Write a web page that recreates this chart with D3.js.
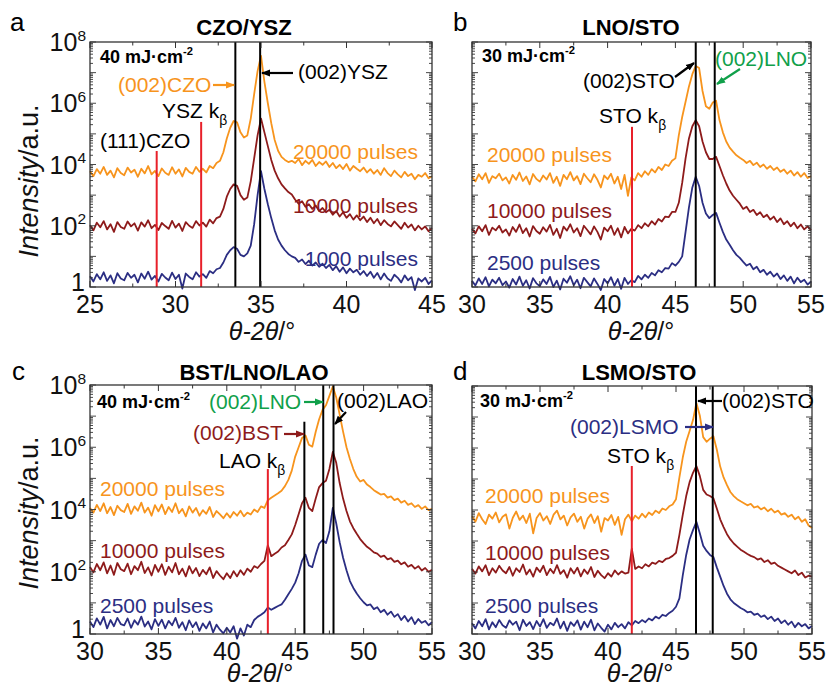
<!DOCTYPE html>
<html><head><meta charset="utf-8">
<script src="https://cdn.jsdelivr.net/npm/d3@7"></script>
<style>body{margin:0;background:#fff}svg{display:block}text{font-family:"Liberation Sans",Arial,Helvetica,sans-serif}</style>
</head><body><svg id="chart" width="828" height="688"></svg>
<script>
// ---------------- DATA (log10 of intensity, a.u.) ----------------
// Panel a: CZO/YSZ, 2theta from 25 to 45 in steps of 0.2
const thetaA = {start: 25, step: 0.2};
const a20000 = [
3.78,3.62,3.85,3.70,3.92,3.66,3.80,3.58,3.88,3.72,
3.65,3.90,3.74,3.83,3.60,3.86,3.71,3.95,3.68,3.79,
3.62,3.87,3.73,3.66,3.91,3.70,3.84,3.61,3.89,3.76,
3.70,3.92,3.76,3.86,3.74,3.95,3.88,4.05,4.12,4.40,
4.85,5.20,5.42,5.38,5.05,4.88,4.95,5.50,6.30,7.05,
7.55,6.70,6.00,5.35,4.80,4.45,4.25,4.15,4.08,4.12,
4.05,4.18,3.98,4.12,4.02,4.15,3.95,4.08,3.99,4.10,
3.92,4.05,3.88,3.99,3.85,4.02,3.80,3.95,3.86,3.78,
3.90,3.74,3.85,3.70,3.82,3.66,3.88,3.72,3.62,3.80,
3.68,3.58,3.76,3.62,3.70,3.52,3.66,3.60,3.72,3.55,
3.62];
const a10000 = [
2.02,1.85,2.10,1.95,2.15,1.88,2.05,1.80,2.12,1.96,
1.90,2.14,1.98,2.08,1.84,2.11,1.97,2.18,1.92,2.03,
1.86,2.09,1.99,1.90,2.16,1.94,2.07,1.83,2.12,2.00,
1.93,2.15,2.01,2.10,1.97,2.20,2.08,2.25,2.30,2.55,
2.95,3.20,3.35,3.30,3.00,2.85,2.92,3.45,4.20,4.95,
5.50,5.05,4.60,4.15,3.80,3.55,3.35,3.22,3.10,3.02,
2.85,2.72,2.80,2.62,2.70,2.55,2.66,2.48,2.58,2.44,
2.52,2.36,2.48,2.30,2.44,2.26,2.38,2.20,2.34,2.18,
2.30,2.12,2.26,2.08,2.22,2.02,2.18,2.06,1.98,2.14,
2.02,1.90,2.10,1.94,2.04,1.85,2.00,1.88,1.98,1.82,
1.92];
const a1000 = [
0.35,0.18,0.42,0.25,0.48,0.20,0.38,0.12,0.45,0.28,
0.22,0.46,0.30,0.40,0.15,0.44,0.27,0.50,0.24,0.36,
0.18,0.43,0.31,0.22,0.47,0.26,0.40,-0.05,0.44,0.33,
0.25,0.48,0.34,0.42,0.30,0.52,0.45,0.58,0.62,0.80,
1.05,1.20,1.30,1.25,1.05,1.00,1.10,1.35,2.05,3.00,
3.78,3.20,2.70,2.25,1.85,1.55,1.35,1.20,1.08,1.00,
0.95,0.82,0.90,0.75,0.86,0.70,0.80,0.66,0.76,0.62,
0.72,0.55,0.68,0.50,0.64,0.45,0.60,0.48,0.56,0.40,
0.52,0.36,0.50,0.30,0.46,0.25,0.44,0.28,0.20,0.40,
0.30,0.15,0.38,0.22,0.32,-0.10,0.28,0.18,0.30,0.10,
0.22];

// Panel b: LNO/STO, 2theta from 30 to 55 in steps of 0.25
const thetaB = {start: 30, step: 0.25};
const b20000 = [
3.60,3.45,3.68,3.52,3.72,3.40,3.62,3.55,3.70,3.48,
3.58,3.38,3.66,3.50,3.74,3.46,3.61,3.35,3.69,3.53,
3.44,3.64,3.51,3.72,3.40,3.60,3.30,3.66,3.52,3.75,
3.48,3.62,3.36,3.70,3.55,3.42,3.68,3.50,3.25,3.64,
3.52,3.70,3.38,3.60,3.20,3.66,2.98,3.58,3.48,3.72,
3.60,3.78,3.66,3.85,3.74,3.92,3.82,4.00,3.95,4.12,
4.20,4.95,5.55,6.05,6.55,6.95,7.22,7.15,6.40,5.90,
5.82,6.02,6.08,5.45,5.05,4.75,4.55,4.42,4.30,4.22,
4.15,4.05,4.12,3.98,4.06,3.92,4.00,3.86,3.95,3.82,
3.90,3.76,3.84,3.70,3.80,3.64,3.75,3.60,3.72,3.56,
3.62];
const b10000 = [
1.90,1.75,1.98,1.82,2.02,1.70,1.94,1.85,2.00,1.78,
1.88,1.68,1.96,1.80,2.04,1.76,1.92,1.65,1.99,1.83,
1.74,1.95,1.81,2.03,1.70,1.90,1.60,1.97,1.84,2.05,
1.78,1.92,1.66,2.00,1.86,1.72,1.98,1.80,1.55,1.94,
1.82,2.00,1.70,1.92,1.62,1.96,1.75,1.90,1.84,2.02,
1.92,2.08,1.98,2.15,2.04,2.22,2.14,2.30,2.28,2.45,
2.45,2.75,3.40,4.20,4.85,5.25,5.45,5.25,4.75,4.40,
4.18,4.18,4.25,3.95,3.65,3.38,3.15,2.98,2.85,2.72,
2.55,2.62,2.45,2.52,2.35,2.44,2.28,2.36,2.20,2.30,
2.12,2.24,2.05,2.15,1.98,2.10,1.92,2.04,1.88,1.98,
1.86];
const b2500 = [
0.20,0.05,0.28,0.10,0.32,0.02,0.24,0.12,0.30,0.06,
0.18,-0.02,0.26,0.08,0.34,0.04,0.22,-0.05,0.29,0.12,
0.03,0.25,0.10,0.33,0.00,0.21,-0.08,0.27,0.14,0.35,
0.06,0.24,-0.04,0.30,0.16,0.02,0.28,0.10,-0.10,0.26,
0.12,0.32,0.04,0.26,-0.06,0.30,0.10,0.22,0.16,0.36,
0.25,0.40,0.30,0.46,0.38,0.55,0.48,0.62,0.60,0.78,
0.70,0.82,1.00,1.80,2.60,3.25,3.60,3.30,2.75,2.40,
2.25,2.35,2.42,2.10,1.80,1.55,1.38,1.20,1.05,0.95,
0.82,0.70,0.76,0.58,0.66,0.48,0.56,0.40,0.50,0.34,
0.44,0.26,0.38,0.20,0.34,0.12,0.30,0.16,0.24,0.08,
0.18];

// Panel c: BST/LNO/LAO, 2theta from 30 to 55 in steps of 0.25
const thetaC = {start: 30, step: 0.25};
const c20000 = [
4.05,3.90,4.15,3.95,4.20,3.88,4.08,3.82,4.12,3.98,
3.92,4.18,3.86,4.10,3.96,4.22,3.90,4.06,3.80,4.14,
3.94,4.16,3.85,4.08,3.92,4.20,3.88,4.02,3.78,4.10,
3.90,4.05,3.80,3.98,3.86,4.08,3.76,3.95,3.84,3.72,
3.88,3.74,3.92,3.80,3.96,3.78,3.90,3.84,4.00,3.92,
4.10,4.05,4.30,4.38,4.45,4.52,4.60,4.75,4.95,5.25,
5.70,6.00,6.30,6.38,6.08,6.02,6.50,6.90,7.20,7.35,
7.65,7.95,7.60,7.05,6.50,6.00,5.62,5.30,5.05,4.90,
4.95,4.80,4.72,4.62,4.55,4.48,4.50,4.38,4.42,4.30,
4.35,4.22,4.28,4.15,4.20,4.08,4.14,4.02,4.10,3.98,
4.02];
const c10000 = [
2.15,1.98,2.25,2.05,2.30,1.95,2.20,1.90,2.28,2.08,
2.02,2.26,1.92,2.18,2.05,2.32,1.96,2.14,1.88,2.22,
2.00,2.24,1.90,2.16,1.98,2.28,1.92,2.10,1.85,2.18,
1.95,2.12,1.86,2.06,1.92,2.14,1.80,2.02,1.88,1.76,
1.95,1.80,2.02,1.85,2.05,1.90,2.10,2.00,2.18,2.12,
2.25,2.35,2.85,2.50,2.58,2.65,2.78,2.85,3.02,3.20,
3.50,3.85,4.20,4.38,4.05,3.95,4.35,4.72,4.85,4.92,
5.30,5.85,5.50,4.85,4.35,3.95,3.62,3.40,3.22,3.05,
2.92,2.80,2.72,2.62,2.58,2.48,2.52,2.40,2.44,2.32,
2.36,2.24,2.30,2.16,2.22,2.10,2.18,2.04,2.12,2.00,
2.06];
const c2500 = [
0.40,0.22,0.50,0.30,0.55,0.18,0.45,0.25,0.52,0.32,
0.28,0.50,0.20,0.44,0.30,0.56,0.24,0.40,0.15,0.48,
0.26,0.46,0.18,0.42,0.28,0.52,0.20,0.38,0.12,0.44,
0.22,0.38,0.10,0.34,0.18,0.40,0.05,0.30,0.14,0.02,
0.20,0.05,0.25,-0.15,0.18,-0.05,0.30,0.22,0.45,0.55,
0.62,0.70,0.85,0.78,0.84,0.90,0.95,1.10,1.28,1.45,
1.65,1.95,2.35,2.55,2.20,2.15,2.55,2.90,3.02,2.92,
3.30,4.05,3.55,2.95,2.45,2.05,1.70,1.48,1.30,1.15,
1.02,0.92,0.95,0.80,0.86,0.70,0.78,0.62,0.72,0.55,
0.64,0.45,0.58,0.40,0.54,0.32,0.48,0.36,0.42,0.28,
0.38];

// Panel d: LSMO/STO, 2theta from 30 to 55 in steps of 0.25
const thetaD = {start: 30, step: 0.25};
const d20000 = [
3.80,3.62,3.90,3.70,3.55,3.85,3.72,3.92,3.60,3.78,
3.86,3.40,3.75,3.95,3.68,3.82,3.58,3.88,3.25,3.74,
3.90,3.66,3.80,3.55,3.85,3.98,3.70,3.82,3.50,3.76,
3.88,3.62,3.78,3.40,3.72,3.86,3.58,3.80,3.30,3.74,
3.66,3.84,3.52,3.78,3.20,3.70,3.85,3.64,3.82,3.72,
3.88,3.76,3.92,3.84,3.98,3.90,4.05,4.00,4.12,4.18,
4.35,5.05,5.70,6.20,6.55,6.90,7.45,7.05,6.35,6.20,
6.30,6.38,5.95,5.40,5.05,4.80,4.58,4.45,4.35,4.28,
4.22,4.15,4.20,4.08,4.12,4.02,4.08,3.96,4.04,3.92,
3.98,3.85,3.90,3.78,3.85,3.70,3.78,3.62,3.70,3.50,
3.42];
const d10000 = [
2.10,1.95,2.18,2.02,2.22,1.90,2.12,1.98,2.20,2.05,
1.96,2.16,1.88,2.12,2.00,2.24,1.92,2.08,1.85,2.14,
2.00,2.20,1.90,2.10,1.96,2.22,1.94,2.06,1.82,2.12,
1.95,2.14,1.86,2.08,1.94,2.16,1.84,2.04,1.90,1.80,
1.96,1.85,2.05,1.92,2.02,1.95,1.98,2.75,2.10,2.18,
2.12,2.25,2.18,2.30,2.26,2.36,2.32,2.42,2.45,2.52,
2.62,3.20,3.85,4.45,4.90,5.20,5.42,5.10,4.65,4.50,
4.45,4.38,4.05,3.70,3.45,3.22,3.05,2.92,2.82,2.72,
2.65,2.58,2.52,2.48,2.40,2.44,2.32,2.38,2.26,2.30,
2.20,2.14,2.08,2.02,1.96,2.05,1.90,1.98,1.82,1.88,
1.85];
const d2500 = [
0.35,0.18,0.42,0.25,0.48,0.15,0.38,0.22,0.45,0.28,
0.20,0.44,0.30,0.40,0.12,0.46,0.26,0.38,0.16,0.42,
0.24,0.48,0.20,0.36,0.28,0.50,0.18,0.40,0.10,0.38,
0.26,0.44,0.14,0.40,0.22,0.46,0.12,0.34,0.20,0.08,
0.30,0.15,0.36,0.22,0.32,0.18,0.38,0.28,0.42,0.35,
0.45,0.38,0.50,0.44,0.56,0.50,0.62,0.58,0.68,0.75,
0.88,1.15,1.90,2.55,3.05,3.35,3.62,3.25,2.85,2.68,
2.55,2.48,2.15,1.85,1.55,1.30,1.12,1.00,0.92,0.84,
0.78,0.70,0.72,0.62,0.66,0.55,0.60,0.48,0.56,0.42,
0.50,0.35,0.44,0.30,0.40,0.22,0.36,0.25,0.32,0.18,
0.26];

// Categories / labels
const seriesNames = ["20000 pulses", "10000 pulses"];
const lowSeriesNames = {a: "1000 pulses", b: "2500 pulses", c: "2500 pulses", d: "2500 pulses"};
const titles = {a: "CZO/YSZ", b: "LNO/STO", c: "BST/LNO/LAO", d: "LSMO/STO"};
const fluences = {a: "40", b: "30", c: "40", d: "30"};
const xTicksA = [25, 30, 35, 40, 45];
const xTicksBCD = [30, 35, 40, 45, 50, 55];
const yTickDecades = [0, 2, 4, 6, 8];
// Reference lines: 2theta position, top (log10 intensity; 8 = full height)
const blackLinesA = [[33.5, 8], [34.95, 8]];
const redLinesA = [[28.9, 4.44], [31.5, 5.39]];
const blackLinesB = [[46.5, 8], [47.9, 8]];
const redLinesB = [[41.8, 5.23]];
const blackLinesC = [[45.67, 6.82], [47.05, 8], [47.8, 8]];
const redLinesC = [[43.0, 5.3]];
const blackLinesD = [[46.47, 8], [47.7, 8]];
const redLinesD = [[41.75, 5.42]];

// ---------------- STYLE / LAYOUT ----------------
const COL = {orange: "#F7941D", red: "#8E1B1B", navy: "#2B2E83", green: "#10A04A", vred: "#E8202A"};
const svg = d3.select("#chart");
const defs = svg.append("defs");
Object.entries({k: "#000", o: COL.orange, r: COL.red, n: COL.navy, g: COL.green}).forEach(([k, c]) => {
  defs.append("marker").attr("id", "ar-" + k).attr("markerUnits", "userSpaceOnUse")
    .attr("markerWidth", 9).attr("markerHeight", 8).attr("refX", 8).attr("refY", 4).attr("orient", "auto")
    .append("path").attr("d", "M0,0.5 L9,4 L0,7.5 Z").attr("fill", c);
});

function rich(g, x, y, parts, o) {
  const t = g.append("text").attr("x", x).attr("y", y).attr("font-size", o.size)
    .attr("fill", o.color || "#000").attr("font-weight", o.weight || "normal")
    .attr("text-anchor", o.anchor || "start");
  if (o.rotate) t.attr("transform", `rotate(${o.rotate},${x},${y})`);
  let shift = 0;
  parts.forEach(p => {
    const [s, k] = typeof p === "string" ? [p, "n"] : p;
    const ts = t.append("tspan").text(s);
    let want = 0;
    if (k === "sup") { want = -o.size * 0.42; ts.attr("font-size", o.size * 0.62); }
    if (k === "sub") { want = o.size * 0.32; ts.attr("font-size", o.size * 0.66); }
    if (k === "i") ts.attr("font-style", "italic");
    if (want - shift !== 0) ts.attr("dy", want - shift);
    shift = want;
  });
  return t;
}

const panels = [
  {id: "a", box: [90, 432, 42, 287], theta: thetaA, domain: [25, 45], ticks: xTicksA, data: [a20000, a10000, a1000],
   black: blackLinesA, red: redLinesA, yLabels: true,
   letter: [10, 31], titleXY: [244, 35], xlabXY: [262, 340], ylabXY: [38, 181],
   labels: [[328, 117, "end"], [328, 171, "end"], [328, 224, "end"]], fl: [10, 21],
   ann: [
     {t: ["(002)CZO"], x: 28, y: 50, c: COL.orange},
     {t: ["(002)YSZ"], x: 208, y: 37, c: "#000"},
     {t: ["YSZ k", ["β", "sub"]], x: 72, y: 76, c: "#000"},
     {t: ["(111)CZO"], x: 10, y: 106, c: "#000"}],
   arrows: [[123, 43, 144, 43, "o"], [203, 31, 172, 31, "k"]]},
  {id: "b", box: [472, 811, 42, 287], theta: thetaB, domain: [30, 55], ticks: xTicksBCD, data: [b20000, b10000, b2500],
   black: blackLinesB, red: redLinesB, yLabels: false,
   letter: [453, 31], titleXY: [631, 35], xlabXY: [641, 340],
   labels: [[15, 120, "start"], [15, 176, "start"], [15, 228, "start"]], fl: [10, 20],
   ann: [
     {t: ["(002)STO"], x: 111, y: 46, c: "#000"},
     {t: ["(002)LNO"], x: 243, y: 24, c: COL.green},
     {t: ["STO k", ["β", "sub"]], x: 127, y: 81, c: "#000"}],
   arrows: [[203, 35, 222, 21, "k"], [268, 27, 245, 42, "g"]]},
  {id: "c", box: [90, 432, 385, 634], theta: thetaC, domain: [30, 55], ticks: xTicksBCD, data: [c20000, c10000, c2500],
   black: blackLinesC, red: redLinesC, yLabels: true,
   letter: [12, 380], titleXY: [254, 380], xlabXY: [260, 682], ylabXY: [38, 513],
   labels: [[10, 111, "start"], [10, 173, "start"], [10, 228, "start"]], fl: [7, 23],
   ann: [
     {t: ["(002)LNO"], x: 119, y: 24, c: COL.green},
     {t: ["(002)LAO"], x: 247, y: 23, c: "#000"},
     {t: ["(002)BST"], x: 103, y: 55, c: COL.red},
     {t: ["LAO k", ["β", "sub"]], x: 129, y: 83, c: "#000"}],
   arrows: [[214, 17, 233, 17, "g"], [256, 27, 245, 39, "k"], [194, 49, 214, 49, "r"]]},
  {id: "d", box: [472, 812, 386, 634], theta: thetaD, domain: [30, 55], ticks: xTicksBCD, data: [d20000, d10000, d2500],
   black: blackLinesD, red: redLinesD, yLabels: false,
   letter: [453, 380], titleXY: [639, 380], xlabXY: [640, 682],
   labels: [[13, 117, "start"], [13, 174, "start"], [13, 227, "start"]], fl: [8, 21],
   ann: [
     {t: ["(002)STO"], x: 250, y: 22, c: "#000"},
     {t: ["(002)LSMO"], x: 98, y: 48, c: COL.navy},
     {t: ["STO k", ["β", "sub"]], x: 135, y: 77, c: "#000"}],
   arrows: [[250, 15, 226, 15, "k"], [213, 41, 241, 41, "n"]]}
];

const lineCols = [COL.orange, COL.red, COL.navy];

panels.forEach(p => {
  const [L, R, T, B] = p.box;
  const g = svg.append("g");
  const x = d3.scaleLinear().domain(p.domain).range([L, R]);
  const y = d3.scaleLog().domain([1, 1e8]).range([B, T]);
  const yl = v => y(Math.pow(10, v));

  // series
  p.data.forEach((arr, si) => {
    const line = d3.line().x((v, i) => x(p.theta.start + i * p.theta.step)).y(v => yl(v));
    g.append("path").attr("d", line(arr)).attr("fill", "none")
      .attr("stroke", lineCols[si]).attr("stroke-width", 1.8).attr("stroke-linejoin", "round");
  });

  // reference lines
  p.red.forEach(([xv, top]) => g.append("line").attr("x1", x(xv)).attr("x2", x(xv))
    .attr("y1", yl(top)).attr("y2", B).attr("stroke", COL.vred).attr("stroke-width", 2));
  p.black.forEach(([xv, top]) => g.append("line").attr("x1", x(xv)).attr("x2", x(xv))
    .attr("y1", yl(top)).attr("y2", B).attr("stroke", "#000").attr("stroke-width", 2));

  // frame
  g.append("rect").attr("x", L).attr("y", T).attr("width", R - L).attr("height", B - T)
    .attr("fill", "none").attr("stroke", "#333").attr("stroke-width", 1.3);

  // x ticks (major every 5, minor every 2.5), inward on bottom and top
  const xt = d3.range(p.domain[0], p.domain[1] + 0.01, 2.5);
  xt.forEach(v => {
    const len = (v % 5 === 0) ? 6 : 3.5;
    g.append("line").attr("x1", x(v)).attr("x2", x(v)).attr("y1", B).attr("y2", B - len).attr("stroke", "#333");
    g.append("line").attr("x1", x(v)).attr("x2", x(v)).attr("y1", T).attr("y2", T + len).attr("stroke", "#333");
  });
  p.ticks.forEach(v => g.append("text").attr("x", x(v)).attr("y", B + 26).attr("text-anchor", "middle")
    .attr("font-size", 25).attr("fill", "#111").text(v));

  // y ticks (log, inward on left and right)
  for (let d = 0; d <= 8; d++) {
    const vals = d < 8 ? [1, 2, 3, 4, 5, 6, 7, 8, 9].map(m => m * Math.pow(10, d)) : [1e8];
    vals.forEach((v, k) => {
      const len = k === 0 ? 6 : 3;
      g.append("line").attr("x1", L).attr("x2", L + len).attr("y1", y(v)).attr("y2", y(v)).attr("stroke", "#333").attr("stroke-width", 0.9);
      g.append("line").attr("x1", R).attr("x2", R - len).attr("y1", y(v)).attr("y2", y(v)).attr("stroke", "#333").attr("stroke-width", 0.9);
    });
  }
  if (p.yLabels) {
    yTickDecades.forEach(dd => {
      const yy = y(Math.pow(10, dd)) + 9;
      if (dd === 0) rich(g, L - 5, yy - 5, ["1"], {size: 25, anchor: "end", color: "#111"});
      else rich(g, L - 4, yy, ["10", [String(dd), "sup"]], {size: 25, anchor: "end", color: "#111"});
    });
    rich(g, p.ylabXY[0], p.ylabXY[1], [["Intensity", "i"], "/a.u."], {size: 27, anchor: "middle", rotate: -90, color: "#111"});
  }
  rich(g, p.xlabXY[0], p.xlabXY[1], [["θ-2θ", "i"], "/°"], {size: 25, anchor: "middle", color: "#111"});

  // title & letter
  g.append("text").attr("x", p.titleXY[0]).attr("y", p.titleXY[1]).attr("text-anchor", "middle")
    .attr("font-size", 22).attr("font-weight", "bold").text(titles[p.id]);
  g.append("text").attr("x", p.letter[0]).attr("y", p.letter[1]).attr("font-size", 26).text(p.id);

  // fluence
  rich(g, L + p.fl[0], T + p.fl[1], [fluences[p.id] + " mJ·cm", ["-2", "sup"]], {size: 18, weight: "bold"});

  // pulse labels
  const names = [seriesNames[0], seriesNames[1], lowSeriesNames[p.id]];
  p.labels.forEach(([lx, ly, anc], i) => rich(g, L + lx, T + ly, [names[i]], {size: 21, anchor: anc, color: lineCols[i]}));

  // annotations
  p.ann.forEach(a => rich(g, L + a.x, T + a.y, a.t, {size: 21, color: a.c}));
  p.arrows.forEach(([x1, y1, x2, y2, c]) => {
    const colr = {k: "#000", o: COL.orange, r: COL.red, n: COL.navy, g: COL.green}[c];
    g.append("line").attr("x1", L + x1).attr("y1", T + y1).attr("x2", L + x2).attr("y2", T + y2)
      .attr("stroke", colr).attr("stroke-width", 2.2).attr("marker-end", `url(#ar-${c})`);
  });
});
</script></body></html>
